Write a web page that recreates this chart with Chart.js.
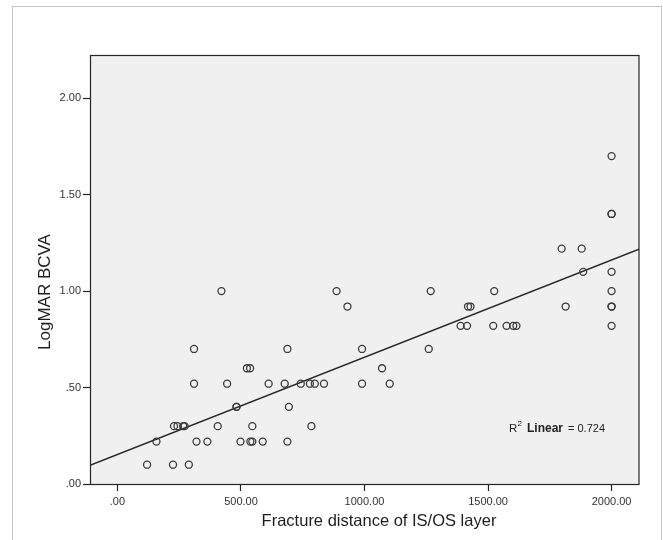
<!DOCTYPE html>
<html>
<head>
<meta charset="utf-8">
<script src="https://cdn.jsdelivr.net/npm/chart.js@4/dist/chart.umd.min.js"></script>
<style>
html,body{margin:0;padding:0;background:#fff;}
canvas{display:block;}
</style>
</head>
<body>
<canvas id="c" width="663" height="540"></canvas>
<script>
// ---- data ----
const fractureDistance = [
  120, 225, 289, 158, 320, 364, 498, 538, 546, 588, 688,
  229, 243, 266, 272, 406, 546, 785,
  482, 482, 694,
  310, 444, 612, 677, 742, 779, 799, 836, 990, 1102,
  524, 537, 1071,
  310, 688, 990, 1260,
  1389, 1415, 1521, 1575, 1602, 1615, 2000,
  931, 1419, 1429, 1814, 2000, 2000,
  421, 887, 1268, 1525, 2000,
  1885, 2000,
  1798, 1879,
  2000, 2000,
  2000
];
const logmarBCVA = [
  0.10, 0.10, 0.10, 0.22, 0.22, 0.22, 0.22, 0.22, 0.22, 0.22, 0.22,
  0.30, 0.30, 0.30, 0.30, 0.30, 0.30, 0.30,
  0.40, 0.40, 0.40,
  0.52, 0.52, 0.52, 0.52, 0.52, 0.52, 0.52, 0.52, 0.52, 0.52,
  0.60, 0.60, 0.60,
  0.70, 0.70, 0.70, 0.70,
  0.82, 0.82, 0.82, 0.82, 0.82, 0.82, 0.82,
  0.92, 0.92, 0.92, 0.92, 0.92, 0.92,
  1.00, 1.00, 1.00, 1.00, 1.00,
  1.10, 1.10,
  1.22, 1.22,
  1.40, 1.40,
  1.70
];
const fitIntercept = 0.153;
const fitSlope = 0.000504;
const rSquared = '0.724';

const xTickValues = [0, 500, 1000, 1500, 2000];
const xTickLabels = ['.00', '500.00', '1000.00', '1500.00', '2000.00'];
const yTickValues = [0, 0.5, 1, 1.5, 2];
const yTickLabels = ['.00', '.50', '1.00', '1.50', '2.00'];

const xTitle = 'Fracture distance of IS/OS layer';
const yTitle = 'LogMAR BCVA';

const X_MIN = -111, X_MAX = 2111, Y_MIN = 0, Y_MAX = 2.224;

const points = fractureDistance.map((x, i) => ({x: x, y: logmarBCVA[i]}));
const fitLine = [X_MIN, X_MAX].map(x => ({x: x, y: fitIntercept + fitSlope * x}));

const FONT = '"Liberation Sans", Arial, sans-serif';

const decor = {
  id: 'decor',
  beforeDraw(chart) {
    const ctx = chart.ctx, a = chart.chartArea;
    ctx.save();
    ctx.fillStyle = '#ffffff';
    ctx.fillRect(0, 0, chart.width, chart.height);
    ctx.strokeStyle = '#c4c4c4';
    ctx.lineWidth = 1;
    ctx.strokeRect(12.5, 6.5, 649, 560);
    ctx.fillStyle = '#f0f0f0';
    ctx.fillRect(a.left, a.top, a.right - a.left, a.bottom - a.top);
    ctx.restore();
  },
  afterDraw(chart) {
    const ctx = chart.ctx, a = chart.chartArea;
    ctx.save();
    ctx.strokeStyle = '#262626';
    ctx.lineWidth = 1.2;
    ctx.strokeRect(a.left + 0.5, a.top + 0.5, a.right - a.left - 0.5, a.bottom - a.top);
    // axis titles
    ctx.fillStyle = '#1e1e1e';
    ctx.textAlign = 'center';
    ctx.textBaseline = 'middle';
    ctx.font = '16.5px ' + FONT;
    ctx.fillText(xTitle, 379, 521);
    ctx.save();
    ctx.translate(45, 292);
    ctx.rotate(-Math.PI / 2);
    ctx.font = '17px ' + FONT;
    ctx.fillText(yTitle, 0, 0);
    ctx.restore();
    // R2 annotation
    ctx.textAlign = 'left';
    ctx.textBaseline = 'alphabetic';
    ctx.fillStyle = '#222';
    ctx.font = '11.5px ' + FONT;
    ctx.fillText('R', 509, 432);
    ctx.font = '8px ' + FONT;
    ctx.fillText('2', 517.5, 426);
    ctx.font = 'bold 12px ' + FONT;
    ctx.fillText('Linear', 527, 432);
    ctx.font = '11px ' + FONT;
    ctx.fillText('= 0.724'.replace('0.724', rSquared), 568, 432);
    ctx.restore();
  }
};

new Chart(document.getElementById('c'), {
  type: 'scatter',
  data: {
    datasets: [
      {
        type: 'scatter',
        data: points,
        pointRadius: 3.5,
        pointHoverRadius: 3.5,
        pointBorderWidth: 1.3,
        borderColor: '#3a3a3a',
        backgroundColor: 'rgba(0,0,0,0)',
        pointStyle: 'circle',
        order: 1
      },
      {
        type: 'line',
        data: fitLine,
        borderColor: '#262626',
        borderWidth: 1.4,
        pointRadius: 0,
        fill: false,
        tension: 0,
        order: 2
      }
    ]
  },
  plugins: [decor],
  options: {
    responsive: false,
    animation: false,
    devicePixelRatio: 1,
    layout: {padding: {left: 0, top: 55, right: 24, bottom: 0}},
    plugins: {legend: {display: false}, tooltip: {enabled: false}},
    scales: {
      x: {
        type: 'linear',
        min: X_MIN,
        max: X_MAX,
        afterBuildTicks(scale) { scale.ticks = xTickValues.map(v => ({value: v})); },
        afterFit(scale) { scale.height = 56; },
        border: {display: false},
        grid: {display: true, drawOnChartArea: false, drawTicks: true, tickLength: 7, tickColor: '#262626', tickWidth: 1.2},
        ticks: {
          autoSkip: false, maxRotation: 0, padding: 4,
          color: '#333', font: {family: FONT, size: 11},
          callback: (v, i) => xTickLabels[i]
        }
      },
      y: {
        type: 'linear',
        min: Y_MIN,
        max: Y_MAX,
        afterBuildTicks(scale) { scale.ticks = yTickValues.map(v => ({value: v})); },
        afterFit(scale) { scale.width = 90; },
        border: {display: false},
        grid: {display: true, drawOnChartArea: false, drawTicks: true, tickLength: 7, tickColor: '#262626', tickWidth: 1.2},
        ticks: {
          autoSkip: false, padding: 2,
          color: '#333', font: {family: FONT, size: 11},
          callback: (v, i) => yTickLabels[i]
        }
      }
    }
  }
});
</script>
</body>
</html>
